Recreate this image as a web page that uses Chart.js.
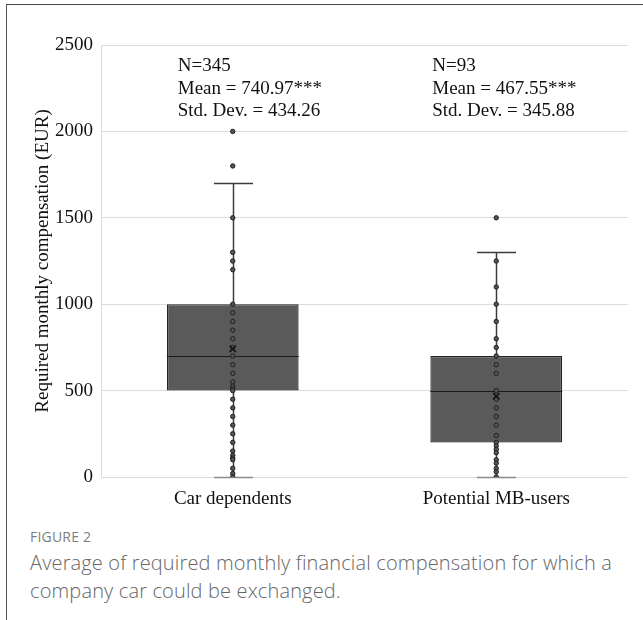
<!DOCTYPE html>
<html>
<head>
<meta charset="utf-8">
<script src="https://cdn.jsdelivr.net/npm/chart.js@4.4.1/dist/chart.umd.min.js"></script>
<style>
  html, body { margin: 0; padding: 0; background: #fff; }
  body { width: 643px; height: 620px; position: relative; overflow: hidden; }
  #frame {
    position: absolute; left: 6px; top: 4px; right: -2px; bottom: -2px;
    border-left: 1.5px solid #555; border-top: 1.5px solid #444;
  }
  #wrap { position: absolute; left: 0; top: 0; width: 643px; height: 520px; }
  #caption { position: absolute; left: 30px; top: 527px; width: 610px; }
  #caption .fig { font-family: "Open Sans", sans-serif; font-size: 14px; color: #7e7e7e; font-weight: 500; letter-spacing: 0.2px; }
  #caption .txt { font-family: "Open Sans", sans-serif; font-weight: 300; font-size: 20px; letter-spacing: 0.15px; line-height: 28px; color: #666; margin-top: 3px; }
</style>
</head>
<body>
<div id="frame"></div>
<div id="wrap"><canvas id="c" width="643" height="520"></canvas></div>
<div id="caption">
  <div class="fig">FIGURE 2</div>
  <div class="txt">Average of required monthly financial compensation for which a company car could be exchanged.</div>
</div>
<script>
// Groups and their summary statistics (EUR per month)
const groups = ['Car dependents', 'Potential MB-users'];
const q1 = [500, 200];
const median = [700, 500];
const q3 = [1000, 700];
const whiskerLow = [0, 0];
const whiskerHigh = [1700, 1300];
const means = [740.97, 467.55];
const counts = [345, 93];
const stdDevs = [434.26, 345.88];

// Individual responses shown as dots along each box
const carDependentsValues = [2000, 1800, 1500, 1300, 1250, 1200, 1000, 950, 900, 850, 800, 750, 700, 650, 600, 550, 525, 510, 500, 450, 400, 350, 300, 250, 200, 150, 125, 110, 100, 50, 20, 0];
const mbUserValues = [1500, 1250, 1100, 1000, 900, 800, 750, 700, 650, 600, 500, 450, 400, 350, 300, 240, 200, 180, 160, 140, 100, 80, 50, 30, 0];

// Y axis ticks
const yTicks = [0, 500, 1000, 1500, 2000, 2500];

const serif = '"Liberation Serif", "Times New Roman", serif';

const dotPoints = [];
carDependentsValues.forEach(v => dotPoints.push({ x: groups[0], y: v }));
mbUserValues.forEach(v => dotPoints.push({ x: groups[1], y: v }));

// Whiskers, caps and median lines of the box plot
const boxPlotParts = {
  id: 'boxPlotParts',
  beforeDatasetsDraw(chart) {
    const { ctx, scales: { x, y } } = chart;
    ctx.save();
    ctx.strokeStyle = '#3c3c3c';
    ctx.lineWidth = 1.5;
    groups.forEach((g, i) => {
      const cx = Math.round(x.getPixelForValue(i)) + 0.5;
      const capHalf = x.width / groups.length * 0.074;
      const segs = [[q3[i], whiskerHigh[i]], [q1[i], whiskerLow[i]]];
      segs.forEach(([a, b]) => {
        ctx.beginPath();
        ctx.moveTo(cx, y.getPixelForValue(a));
        ctx.lineTo(cx, y.getPixelForValue(b));
        ctx.stroke();
      });
      [whiskerHigh[i], whiskerLow[i]].forEach(v => {
        const py = Math.round(y.getPixelForValue(v)) + 0.5;
        ctx.beginPath();
        ctx.strokeStyle = v === 0 ? '#8a8a8a' : '#3c3c3c';
        ctx.moveTo(cx - capHalf, py);
        ctx.lineTo(cx + capHalf, py);
        ctx.stroke();
        ctx.strokeStyle = '#3c3c3c';
      });
    });
    ctx.restore();
  },
  afterDatasetDraw(chart, args) {
    if (args.index !== 0) return;
    const { ctx, scales: { y } } = chart;
    const meta = chart.getDatasetMeta(0);
    ctx.save();
    ctx.strokeStyle = '#1a1a1a';
    ctx.lineWidth = 1.2;
    meta.data.forEach((bar, i) => {
      const py = Math.round(y.getPixelForValue(median[i])) + 0.5;
      ctx.beginPath();
      ctx.moveTo(bar.x - bar.width / 2, py);
      ctx.lineTo(bar.x + bar.width / 2, py);
      ctx.stroke();
    });
    ctx.restore();
  }
};

// Sample size, mean and standard deviation printed above each group
const statsText = {
  id: 'statsText',
  afterDraw(chart, args, opts) {
    const { ctx, chartArea, scales: { x } } = chart;
    ctx.save();
    ctx.font = '19px ' + serif;
    ctx.fillStyle = '#111';
    ctx.textBaseline = 'alphabetic';
    ctx.textAlign = 'left';
    groups.forEach((g, i) => {
      const left = x.getPixelForValue(i) + opts.offsets[i];
      const lines = [
        'N=' + counts[i],
        'Mean = ' + means[i].toFixed(2) + '***',
        'Std. Dev. = ' + stdDevs[i].toFixed(2)
      ];
      lines.forEach((t, k) => ctx.fillText(t, left, chartArea.top + 26 + k * 22.5));
    });
    ctx.restore();
  }
};

new Chart(document.getElementById('c'), {
  data: {
    labels: groups,
    datasets: [
      {
        type: 'bar',
        data: groups.map((g, i) => [q1[i], q3[i]]),
        backgroundColor: '#5a5a5a',
        borderColor: '#262626',
        borderWidth: 1.3,
        borderSkipped: false,
        barPercentage: 0.5,
        categoryPercentage: 1.0,
        order: 3
      },
      {
        type: 'line',
        data: dotPoints,
        showLine: false,
        pointRadius: 2.2,
        pointBackgroundColor: '#555',
        pointBorderColor: '#1e1e1e',
        pointBorderWidth: 1,
        order: 2
      },
      {
        type: 'line',
        data: means.map((m, i) => ({ x: groups[i], y: m })),
        showLine: false,
        pointStyle: 'crossRot',
        pointRadius: 4.5,
        pointBorderColor: '#111',
        pointBorderWidth: 1.6,
        order: 1
      }
    ]
  },
  options: {
    responsive: false,
    animation: false,
    devicePixelRatio: 1,
    layout: { padding: { top: 45, right: 15, left: 0, bottom: 0 } },
    plugins: {
      legend: { display: false },
      tooltip: { enabled: false },
      statsText: { offsets: [-55, -64] }
    },
    scales: {
      x: {
        type: 'category',
        offset: true,
        grid: { display: false },
        border: { display: false },
        ticks: { font: { family: serif, size: 19 }, color: '#111', padding: 3 },
        afterFit(s) { s.height = 43; }
      },
      y: {
        min: 0,
        max: 2500,
        afterBuildTicks(s) { s.ticks = yTicks.map(v => ({ value: v })); },
        grid: { color: '#dcdcdc', lineWidth: 1, drawTicks: false },
        border: { display: true, color: '#dcdcdc' },
        ticks: {
          font: { family: serif, size: 19 },
          color: '#111',
          padding: 8,
          callback: v => String(v)
        },
        title: {
          display: true,
          text: 'Required monthly compensation (EUR)',
          font: { family: serif, size: 19 },
          color: '#111',
          padding: { top: 32, bottom: 0 }
        },
        afterFit(s) { s.width = 101; }
      }
    }
  },
  plugins: [boxPlotParts, statsText]
});
</script>
</body>
</html>
